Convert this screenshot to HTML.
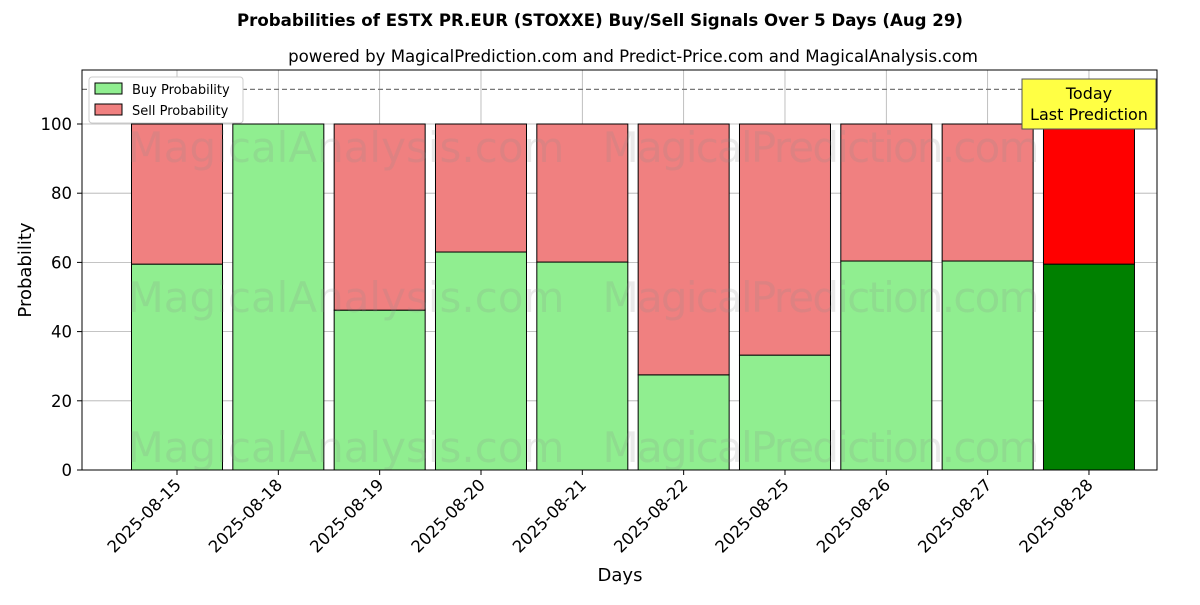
<!DOCTYPE html>
<html><head><meta charset="utf-8"><style>
body{margin:0;background:#fff;font-family:"Liberation Sans","DejaVu Sans",sans-serif;}
svg text{font-family:"DejaVu Sans","Liberation Sans",sans-serif;}
</style></head><body>
<svg id="chart" width="1200" height="600" xmlns="http://www.w3.org/2000/svg">
<rect width="1200" height="600" fill="#fff"/>
<text x="600" y="26" text-anchor="middle" font-size="16.6" font-weight="bold">Probabilities of ESTX PR.EUR (STOXXE) Buy/Sell Signals Over 5 Days (Aug 29)</text>
<text x="633" y="62" text-anchor="middle" font-size="16.6">powered by MagicalPrediction.com and Predict-Price.com and MagicalAnalysis.com</text>
<g id="grid"></g>
<g id="bars"></g>
<g id="wm" fill="#8a8a8a" fill-opacity="0.18" font-size="42">
<text x="346" y="162" text-anchor="middle">MagicalAnalysis.com</text>
<text x="821" y="162" text-anchor="middle" textLength="437">MagicalPrediction.com</text>
<text x="346" y="312" text-anchor="middle">MagicalAnalysis.com</text>
<text x="821" y="312" text-anchor="middle" textLength="437">MagicalPrediction.com</text>
<text x="346" y="462" text-anchor="middle">MagicalAnalysis.com</text>
<text x="821" y="462" text-anchor="middle" textLength="437">MagicalPrediction.com</text>
</g>
<line x1="82" x2="1157" y1="89.4" y2="89.4" stroke="#777" stroke-dasharray="5,3" stroke-width="1.2"/>
<rect x="82" y="70" width="1075" height="400" fill="none" stroke="#000" stroke-width="1"/>
<g id="axes"></g>
<text transform="translate(31,270) rotate(-90)" text-anchor="middle" font-size="18">Probability</text>
<text x="620" y="581" text-anchor="middle" font-size="18">Days</text>
<g>
<rect x="89" y="77" width="154" height="46" fill="#fff" stroke="#ccc" rx="3"/>
<rect x="95" y="83" width="27" height="11" fill="#90ee90" stroke="#000"/>
<text x="132" y="94" font-size="13">Buy Probability</text>
<rect x="95" y="104" width="27" height="11" fill="#f08080" stroke="#000"/>
<text x="132" y="115" font-size="13">Sell Probability</text>
</g>
<g>
<rect x="1022" y="79" width="134" height="50" fill="#ffff44" stroke="#555"/>
<text x="1089" y="99" text-anchor="middle" font-size="16">Today</text>
<text x="1089" y="120" text-anchor="middle" font-size="16">Last Prediction</text>
</g>
</svg>
<script>
const categories=["2025-08-15","2025-08-18","2025-08-19","2025-08-20","2025-08-21","2025-08-22","2025-08-25","2025-08-26","2025-08-27","2025-08-28"];
const buyValues=[59.5,100,46.2,63,60.1,27.5,33.2,60.4,60.4,59.5];
const sellValues=[40.5,0,53.8,37,39.9,72.5,66.8,39.6,39.6,40.5];
const yTicks=[0,20,40,60,80,100];
const NS="http://www.w3.org/2000/svg";
const y=v=>470-v*3.46;
const x=i=>177+i*101.33;
const bw=91;
function mk(t,a,p){const e=document.createElementNS(NS,t);for(const k in a)e.setAttribute(k,a[k]);p.appendChild(e);return e;}
const grid=document.getElementById('grid'),bars=document.getElementById('bars'),axes=document.getElementById('axes');
yTicks.forEach(t=>{
 const g=mk('line',{x1:82,x2:1157,y1:y(t),y2:y(t),stroke:'#b0b0b0','stroke-width':0.8},grid);
 
 
 mk('line',{x1:77,x2:82,y1:y(t),y2:y(t),stroke:'#000'},axes);
 const tx=mk('text',{x:72,y:y(t)+6,'text-anchor':'end','font-size':16.5},axes);tx.textContent=t;
 
 
});
categories.forEach((c,i)=>{
 const cx=x(i);
 const gl=mk('line',{x1:cx,x2:cx,y1:70,y2:470,stroke:'#b0b0b0','stroke-width':0.8},grid);
 
 
 const last=i===categories.length-1;
 const b=mk('rect',{x:cx-bw/2,y:y(buyValues[i]),width:bw,height:y(0)-y(buyValues[i]),fill:last?'#008000':'#90ee90',stroke:'#000','stroke-width':1},bars);
 
 
 const s=mk('rect',{x:cx-bw/2,y:y(buyValues[i]+sellValues[i]),width:bw,height:y(buyValues[i])-y(buyValues[i]+sellValues[i]),fill:last?'#ff0000':'#f08080',stroke:'#000','stroke-width':1},bars);
 
 
 mk('line',{x1:cx,x2:cx,y1:470,y2:475,stroke:'#000'},axes);
 const t=mk('text',{x:cx+5,y:486,'text-anchor':'end','font-size':16.5,transform:`rotate(-45 ${cx+5} 486)`},axes);
 t.textContent=c;
 
 
});
</script>
</body></html>
